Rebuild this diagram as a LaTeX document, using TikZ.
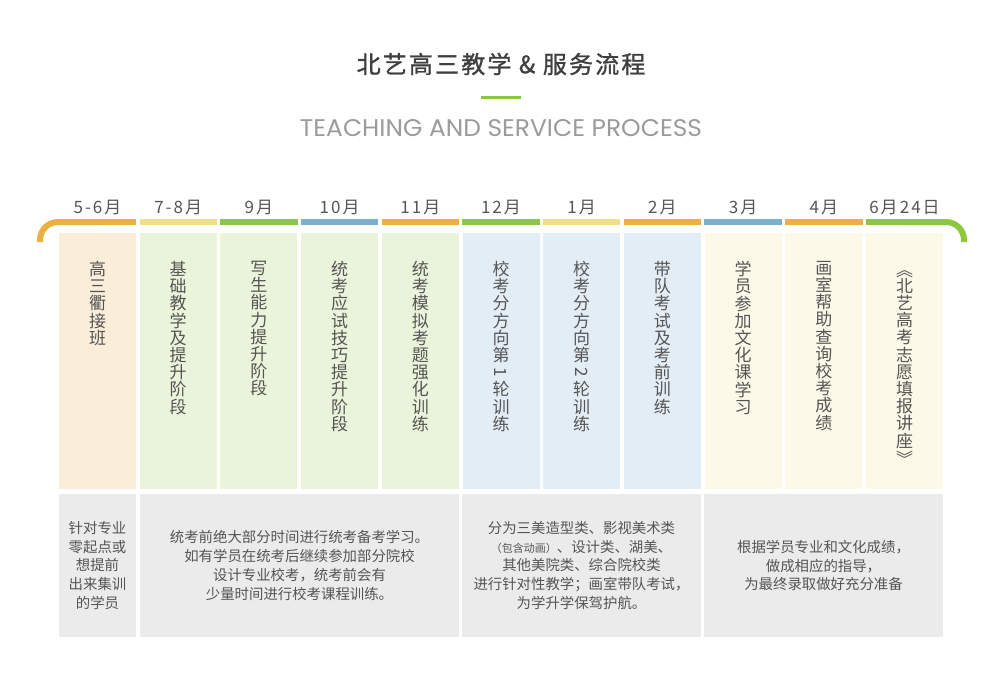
\documentclass[tikz,border=0pt]{standalone}
\usepackage{fontspec}
\setmainfont{Noto Sans CJK SC}
\newfontfamily\latinfont{Poppins}
\newfontfamily\titlefont{Noto Sans CJK SC}[FakeBold=1.2,LetterSpace=9]
\newfontfamily\monthfont{Noto Sans CJK SC}[LetterSpace=12]
\usetikzlibrary{positioning}
\definecolor{barorange}{HTML}{EBB03F}
\definecolor{baryellow}{HTML}{F2DE8A}
\definecolor{bargreen}{HTML}{8DC63F}
\definecolor{barblue}{HTML}{7BAFD0}
\definecolor{peach}{HTML}{FAEEDA}
\definecolor{lightgreen}{HTML}{EAF4DA}
\definecolor{lightblue}{HTML}{E3EDF5}
\definecolor{cream}{HTML}{FCF9E9}
\definecolor{notegray}{HTML}{EBEBEB}
\definecolor{txtgray}{HTML}{555555}
\definecolor{titlegray}{HTML}{3F3F3F}
\definecolor{subgray}{HTML}{9B9B9B}

\begin{document}
\begin{tikzpicture}[x=1pt,y=-1pt,
    month/.style={font=\monthfont\fontsize{17}{17}\selectfont,text=txtgray},
    stage box/.style={minimum width=77pt,minimum height=256pt,inner sep=0pt},
    stage text/.style={font=\fontsize{17}{17.2}\selectfont,align=center,inner sep=0pt,text=txtgray,anchor=north},
    side glyph/.style={font=\fontsize{17}{17}\selectfont,inner sep=0pt,text=txtgray,rotate=-90},
    note box/.style={fill=notegray,minimum height=143pt,inner sep=0pt,
                     font=\fontsize{14.4}{18.7}\selectfont,align=center,text=txtgray},
    bar/.style={line width=6pt}]

  \useasboundingbox (0,0) rectangle (1003,672);

  % heading
  \node[font=\titlefont\fontsize{24}{24}\selectfont,text=titlegray] (title) at (501,64) {北艺高三教学 \& 服务流程};
  \draw[bargreen,line width=3pt] (481,97) -- (521,97);
  \node[text=subgray,inner sep=0pt] (sub) at (501,128) {\resizebox{402pt}{17pt}{\latinfont TEACHING AND SERVICE PROCESS}};

  % time line
  \foreach \i/\mon/\bc/\fc/\txt in {
      1/5-6月/barorange/peach/{高\\三\\衢\\接\\班},
      2/7-8月/baryellow/lightgreen/{基\\础\\教\\学\\及\\提\\升\\阶\\段},
      3/9月/bargreen/lightgreen/{写\\生\\能\\力\\提\\升\\阶\\段},
      4/10月/barblue/lightgreen/{统\\考\\应\\试\\技\\巧\\提\\升\\阶\\段},
      5/11月/barorange/lightgreen/{统\\考\\模\\拟\\考\\题\\强\\化\\训\\练},
      6/12月/bargreen/lightblue/{校\\考\\分\\方\\向\\第\\\phantom{1}\\轮\\训\\练},
      7/1月/baryellow/lightblue/{校\\考\\分\\方\\向\\第\\\phantom{2}\\轮\\训\\练},
      8/2月/barorange/lightblue/{带\\队\\考\\试\\及\\考\\前\\训\\练},
      9/3月/barblue/cream/{学\\员\\参\\加\\文\\化\\课\\学\\习},
      10/4月/barorange/cream/{画\\室\\帮\\助\\查\\询\\校\\考\\成\\绩},
      11/6月24日/bargreen/cream/{\phantom{北}\\北\\艺\\高\\考\\志\\愿\\填\\报\\讲\\座\\\phantom{北}}} {
    \pgfmathsetmacro\xc{97.5+80.7*(\i-1)}
    \node[stage box,fill=\fc] (s\i) at (\xc,361) {};
    \coordinate (b\i) at (\xc,222);
    \draw[bar,\bc] (s\i.west |- b\i) -- (s\i.east |- b\i);
    \node[month] (m\i) at (\xc,207) {\mon};
    \node[stage text] (t\i) at (\xc,261) {\txt};
  }
  % turned glyphs of the vertical lines
  \node[side glyph] (d1) at (t6.north |- 0,372.5) {1};
  \node[side glyph] (d2) at (t7.north |- 0,372.5) {2};
  \node[side glyph] (q1) at (t11.north |- 0,269.5) {《};
  \node[side glyph] (q2) at (t11.north |- 0,458.5) {》};

  \coordinate (lend) at (40,242);
  \coordinate (rend) at (964,242);
  \draw[bar,barorange,rounded corners=18pt] (lend) |- (b1);
  \draw[bar,bargreen,rounded corners=18pt] (b11) -| (rend);

  % notes
  \node[note box,minimum width=77pt] (n1) at (97.5,565.5)
    {针对专业\\零起点或\\想提前\\出来集训\\的学员};
  \node[note box,minimum width=319pt] (n2) at (299.5,565.5)
    {统考前绝大部分时间进行统考备考学习。\\如有学员在统考后继续参加部分院校\\设计专业校考，统考前会有\\少量时间进行校考课程训练。};
  \node[note box,minimum width=239pt] (n3) at (581.5,565.5)
    {分为三美造型类、影视美术类\\{\fontsize{11}{11}\selectfont（包含动画）}、设计类、湖美、\\其他美院类、综合院校类\\进行针对性教学；画室带队考试，\\为学升学保驾护航。};
  \node[note box,minimum width=239pt] (n4) at (823.5,565.5)
    {根据学员专业和文化成绩，\\做成相应的指导，\\为最终录取做好充分准备};
\end{tikzpicture}
\end{document}
